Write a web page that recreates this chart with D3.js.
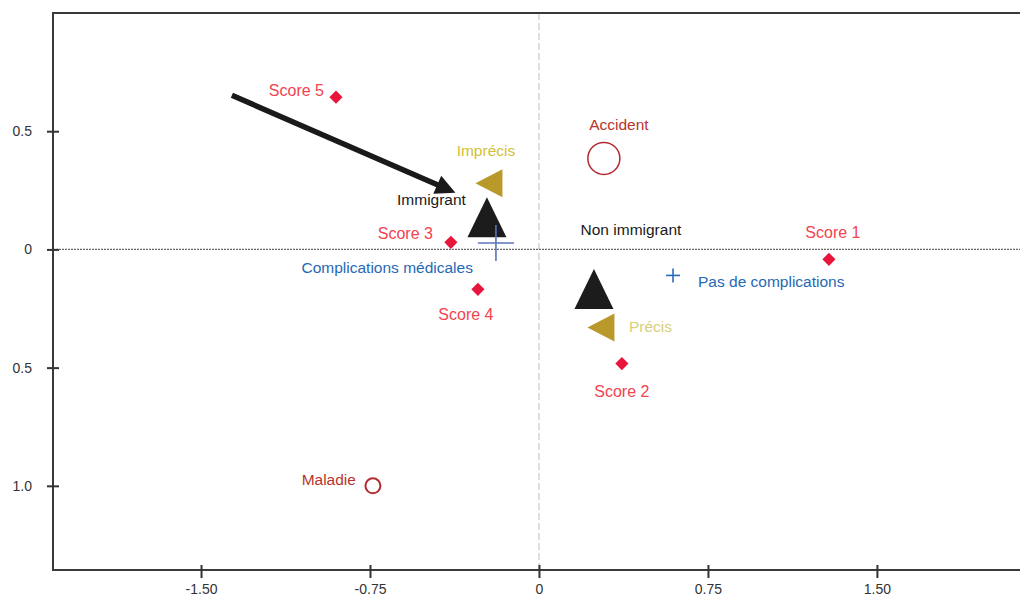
<!DOCTYPE html>
<meta charset="utf-8">
<script src="https://d3js.org/d3.v7.min.js"></script>
<style>
  html, body { margin: 0; padding: 0; background: #fff; overflow: hidden; }
  text { font-family: "Liberation Sans", Arial, sans-serif; }
</style>
<div id="my_dataviz"></div>
<script>

// modalities, coordinates
var scoreNames = ["Score 1", "Score 2", "Score 3", "Score 4", "Score 5"];
var scoreX = [1.287, 0.368, -0.391, -0.271, -0.901];
var scoreY = [-0.042, -0.483, 0.030, -0.169, 0.644];

var causeNames = ["Accident", "Maladie"];
var causeX = [0.288, -0.737];
var causeY = [0.385, -1.0];
var causeR = [16, 7.5];

var precNames = ["Imprécis", "Précis"];
var precX = [-0.222, 0.275];
var precY = [0.280, -0.330];

var migrNames = ["Immigrant", "Non immigrant"];
var migrX = [-0.231, 0.244];
var migrY = [0.140, -0.163];

var complNames = ["Complications médicales", "Pas de complications"];
var complX = [-0.191, 0.595];
var complY = [0.027, -0.110];
var complSize = [18, 7];

// arrow annotation (from, to)
var arrowX = [-1.363, -0.395];
var arrowY = [0.652, 0.250];

var xTicks = [-1.5, -0.75, 0, 0.75, 1.5];
var xTickLabels = ["-1.50", "-0.75", "0", "0.75", "1.50"];
var yTicks = [0.5, 0, -0.5, -1.0];
var yTickLabels = ["0.5", "0", "0.5", "1.0"];

var width = 1020, height = 599;
var margin = {top: 13, left: 53, bottom: 29};

var svg = d3.select("#my_dataviz")
  .append("svg")
    .attr("width", width)
    .attr("height", height)
    .style("display", "block");

var x = d3.scaleLinear()
  .domain([-2.157, 2.25])
  .range([margin.left, margin.left + 225.3 * 4.407]);
var y = d3.scaleLinear()
  .domain([-1.356, 1.0])
  .range([height - margin.bottom, margin.top]);

// zero lines
svg.append("line")
  .attr("x1", x(0)).attr("x2", x(0))
  .attr("y1", margin.top).attr("y2", height - margin.bottom)
  .attr("stroke", "#d4d4d4").attr("stroke-width", 1.5)
  .attr("stroke-dasharray", "7,3");
svg.append("line")
  .attr("x1", margin.left).attr("x2", width)
  .attr("y1", y(0)).attr("y2", y(0))
  .attr("stroke", "#666").attr("stroke-width", 1.2)
  .attr("stroke-dasharray", "2,1");

// frame: top, left, bottom (right side runs past the window)
svg.append("path")
  .attr("d", "M" + width + "," + margin.top + "H" + margin.left +
             "V" + (height - margin.bottom) + "H" + width)
  .attr("fill", "none").attr("stroke", "#3a3a3a").attr("stroke-width", 2);

// axes
var xAxis = svg.append("g")
  .attr("transform", "translate(0," + (height - margin.bottom) + ")")
  .call(d3.axisBottom(x).tickValues(xTicks)
    .tickFormat(function(d, i) { return xTickLabels[i]; })
    .tickSizeInner(8).tickSizeOuter(0).tickPadding(6));
xAxis.select(".domain").remove();
xAxis.selectAll(".tick line").attr("y1", -5).attr("stroke", "#333").attr("stroke-width", 2);
xAxis.selectAll("text").style("font-size", "14px").attr("fill", "#333");

var yAxis = svg.append("g")
  .attr("transform", "translate(" + margin.left + ",0)")
  .call(d3.axisLeft(y).tickValues(yTicks)
    .tickFormat(function(d, i) { return yTickLabels[i]; })
    .tickSizeInner(6).tickSizeOuter(0).tickPadding(15));
yAxis.select(".domain").remove();
yAxis.selectAll(".tick line").attr("x1", 6).attr("stroke", "#333").attr("stroke-width", 2);
yAxis.selectAll("text").style("font-size", "14px").attr("fill", "#333");

// arrow
svg.append("defs").append("marker")
  .attr("id", "head")
  .attr("viewBox", "0 0 10 10")
  .attr("refX", 7).attr("refY", 5)
  .attr("markerWidth", 4).attr("markerHeight", 3.6)
  .attr("orient", "auto")
  .append("path").attr("d", "M0,0L10,5L0,10Z").attr("fill", "#1a1a1a");
svg.append("line")
  .attr("x1", x(arrowX[0])).attr("y1", y(arrowY[0]))
  .attr("x2", x(arrowX[1])).attr("y2", y(arrowY[1]))
  .attr("stroke", "#1a1a1a").attr("stroke-width", 5.5)
  .attr("marker-end", "url(#head)");

// label helper
function label(tx, ty, txt, color, anchor, size) {
  svg.append("text")
    .attr("x", tx).attr("y", ty)
    .attr("text-anchor", anchor || "start")
    .attr("fill", color)
    .style("font-size", (size || 15.5) + "px")
    .text(txt);
}

// scores: red diamonds
var diamond = d3.symbol().type(d3.symbolDiamond2).size(110);
scoreNames.forEach(function(n, i) {
  svg.append("path")
    .attr("d", diamond())
    .attr("transform", "translate(" + x(scoreX[i]) + "," + y(scoreY[i]) + ")")
    .attr("fill", "#e8143c");
});
var scoreLab = [[4, -21, "middle"], [0, 33, "middle"], [-18, -3, "end"], [-12, 31, "middle"], [-12, -1, "end"]];
scoreNames.forEach(function(n, i) {
  label(x(scoreX[i]) + scoreLab[i][0], y(scoreY[i]) + scoreLab[i][1], n, "#f2434f", scoreLab[i][2], 16);
});

// cause: open circles
causeNames.forEach(function(n, i) {
  svg.append("circle")
    .attr("cx", x(causeX[i])).attr("cy", y(causeY[i]))
    .attr("r", causeR[i])
    .attr("fill", "none").attr("stroke", "#b32a30")
    .attr("stroke-width", i == 0 ? 1.5 : 2);
});
label(x(causeX[0]) + 15, y(causeY[0]) - 28, causeNames[0], "#b8342c", "middle");
label(x(causeX[1]) - 17, y(causeY[1]) - 1, causeNames[1], "#b8342c", "end");

// triangle path centred on (cx, cy); w = width, h = height
function triUp(cx, cy, w, h) {
  return "M" + cx + "," + (cy - h / 2) + "L" + (cx + w / 2) + "," + (cy + h / 2) +
         "L" + (cx - w / 2) + "," + (cy + h / 2) + "Z";
}
function triLeft(cx, cy, w, h) {
  return "M" + (cx - w / 2) + "," + cy + "L" + (cx + w / 2) + "," + (cy - h / 2) +
         "L" + (cx + w / 2) + "," + (cy + h / 2) + "Z";
}

// precision: gold left-pointing triangles
precNames.forEach(function(n, i) {
  svg.append("path")
    .attr("d", triLeft(x(precX[i]), y(precY[i]), 27, 28))
    .attr("fill", "#b8992a");
});
label(x(precX[0]) - 3, y(precY[0]) - 27, precNames[0], "#d2c035", "middle");
label(x(precX[1]) + 28, y(precY[1]) + 5, precNames[1], "#d6cf78", "start");

// migration: black up triangles
migrNames.forEach(function(n, i) {
  svg.append("path")
    .attr("d", triUp(x(migrX[i]), y(migrY[i]) + 1, 39, 40))
    .attr("fill", "#1c1c1c");
});
label(x(migrX[0]) - 21, y(migrY[0]) - 11, migrNames[0], "#1a1a1a", "end");
label(x(migrX[1]) + 37, y(migrY[1]) - 53, migrNames[1], "#1a1a1a", "middle");

// complications: blue crosses
complNames.forEach(function(n, i) {
  var cx = x(complX[i]), cy = y(complY[i]), s = complSize[i];
  var g = svg.append("g").attr("stroke", i == 0 ? "#5a74bb" : "#2a6cb8").attr("stroke-width", 1.6);
  g.append("line").attr("x1", cx - s).attr("x2", cx + s).attr("y1", cy).attr("y2", cy);
  g.append("line").attr("x1", cx).attr("x2", cx).attr("y1", cy - s).attr("y2", cy + s);
});
label(x(complX[0]) - 23, y(complY[0]) + 30, complNames[0], "#2668b6", "end");
label(x(complX[1]) + 25, y(complY[1]) + 12, complNames[1], "#2668b6", "start");

</script>
